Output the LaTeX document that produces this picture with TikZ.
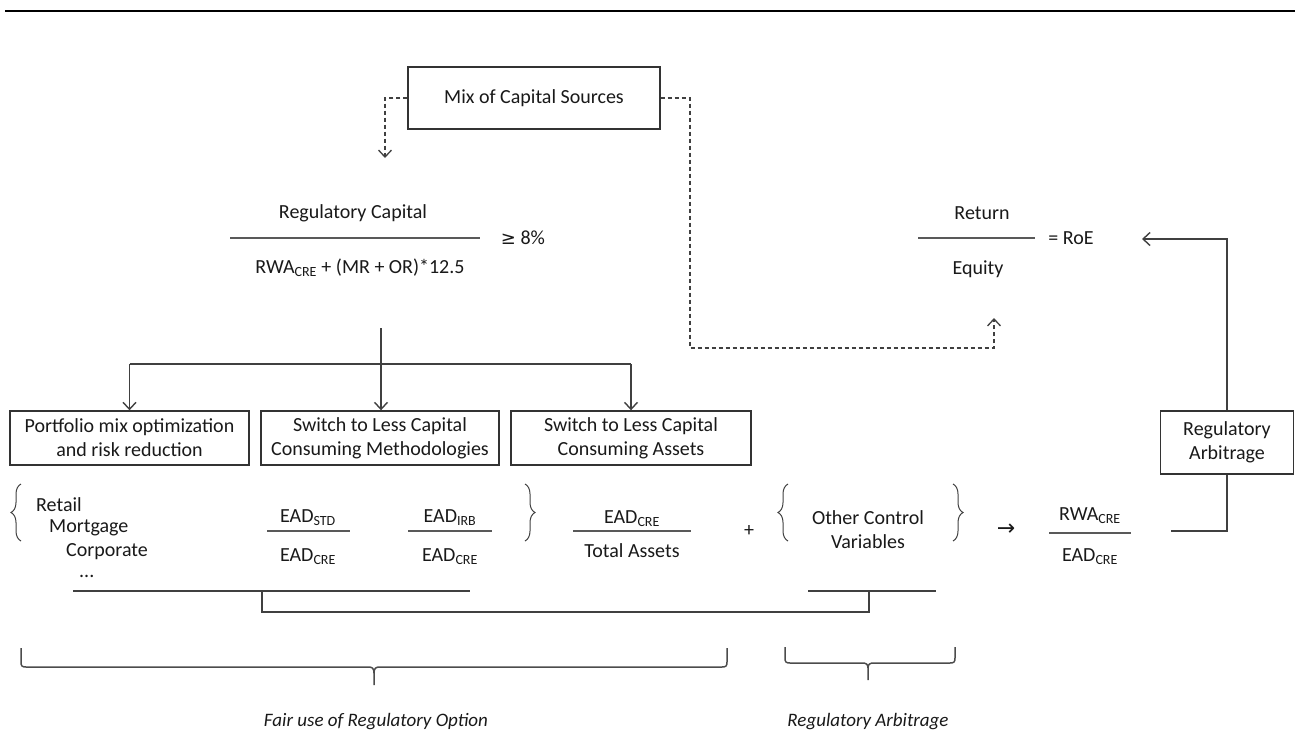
\documentclass[tikz,border=0pt]{standalone}
\usepackage{fontspec}
\setmainfont{Carlito}
\newfontfamily\symfont{DejaVu Sans}
\usetikzlibrary{arrows.meta,decorations.pathreplacing}
\newcommand{\mysub}[1]{\textsubscript{#1}}
\begin{document}
\begin{tikzpicture}[x=1pt,y=-1pt,
  every node/.style={font=\fontsize{20}{24}\selectfont, inner sep=0pt, text=black!90},
  box/.style={draw=black!80, line width=1.4pt, align=center, minimum height=54pt},
  ln/.style={draw=black!75, line width=1.4pt},
  fracline/.style={draw=black!65, line width=1.8pt},
  dsh/.style={draw=black!75, line width=1.3pt, dash pattern=on 4pt off 3pt},
  brc/.style={draw=black!75, line width=1pt, decorate, decoration={brace, amplitude=10pt}},
  bigbrace/.style={draw=black!70, line width=1.5pt},
  lbl/.style={font=\fontsize{19}{23}\selectfont\itshape},
  >={Straight Barb[length=7pt,width=13pt]},
]
\useasboundingbox (0,0) rectangle (1295,753);
% top rule
\coordinate (tl) at (5,11); \coordinate (tr) at (1295,11);
\draw[line width=2.5pt] (tl) -- (tr);

% Mix of capital sources
\node[box, minimum width=252pt, minimum height=62pt] (mix) at (534,98) {Mix of Capital Sources};

% Regulatory capital ratio
\node (rcnum) at (353,213) {Regulatory Capital};
\coordinate (rcl) at (230,238); \coordinate (rcr) at (480,238);
\draw[fracline] (rcl) -- (rcr);
\node (rcden) at (360,268) {RWA\mysub{CRE} + (MR + OR)*12.5};
\node (ge) at (523,238) {{\symfont\fontsize{18}{22}\selectfont ≥} 8\%};

% RoE
\node (ret) at (982,213) {Return};
\coordinate (rol) at (918,238); \coordinate (ror) at (1035,238);
\draw[fracline] (rol) -- (ror);
\node (eq) at (978,269) {Equity};
\node (roe) at (1071,238) {= RoE};

% dashed connectors
\coordinate (dl) at (385,158);
\draw[dsh,->] (mix.west) -| (dl);
\coordinate (dr1) at (690,98);
\coordinate (dr2) at (690,348);
\coordinate (dr) at (994,318);
\draw[dsh,->] (mix.east) -- (dr1) -- (dr2) -| (dr);

% boxes
\node[box, minimum width=239pt] (box1) at (129.5,438) {Portfolio mix optimization\\and risk reduction};
\node[box, minimum width=238pt] (box2) at (380,438) {Switch to Less Capital\\Consuming Methodologies};
\node[box, minimum width=240pt] (box3) at (631,438) {Switch to Less Capital\\Consuming Assets};

\coordinate (vtop) at (381,328);
\coordinate (hb) at (381,364);
\draw[ln,->] (vtop) -- (vtop |- box2.north);
\draw[ln] (box1.north |- hb) -- (box3.north |- hb);
\draw[ln,->] (box1.north |- hb) -- (box1.north);
\draw[ln,->] (box3.north |- hb) -- (box3.north);

% Regulatory arbitrage box
\node[box, minimum width=133pt, minimum height=63pt] (ra) at (1227,442.5) {Regulatory\\Arbitrage};
\coordinate (roeArr) at (1142,239);
\draw[ln,->] (ra.north) -- (ra.north |- roeArr) -- (roeArr);
\coordinate (rafoot) at (1171,531);
\draw[ln] (ra.south) |- (rafoot);

% bottom row
\draw[brc] (21,541) -- (21,484);
\node[anchor=west] (retail) at (36,505) {Retail};
\node[anchor=west] (mort) at (49,528) {Mortgage};
\node[anchor=west] (corp) at (66,552) {Corporate};
\node[anchor=west] (dots) at (79,576) {...};

\node (std) at (308,518) {EAD\mysub{STD}};
\coordinate (sl) at (267,531); \coordinate (sr) at (350,531);
\draw[fracline] (sl) -- (sr);
\node (stdd) at (308,557) {EAD\mysub{CRE}};

\node (irb) at (450,518) {EAD\mysub{IRB}};
\coordinate (il) at (408,531); \coordinate (ir) at (492,531);
\draw[fracline] (il) -- (ir);
\node (irbd) at (450,557) {EAD\mysub{CRE}};

\draw[brc] (525,484) -- (525,541);

\node (cre) at (632,519) {EAD\mysub{CRE}};
\coordinate (cl) at (573,531); \coordinate (cr) at (691,531);
\draw[fracline] (cl) -- (cr);
\node (tot) at (632,551) {Total Assets};

\node (plus) at (749,531) {+};

\draw[brc] (788,541) -- (788,484);
\node (oth) at (868,518) {Other Control};
\node (var) at (868,542) {Variables};
\draw[brc] (953,484) -- (953,541);

\node (arr) at (1006,530) {{\symfont\fontsize{22}{24}\selectfont →}};

\node (rwa) at (1090,516) {RWA\mysub{CRE}};
\coordinate (wl) at (1049,533); \coordinate (wr) at (1131,533);
\draw[fracline] (wl) -- (wr);
\node (ead) at (1090,557) {EAD\mysub{CRE}};

% connecting lines under bottom row
\coordinate (l1a) at (73,591); \coordinate (l1b) at (470,591);
\draw[ln] (l1a) -- (l1b);
\coordinate (l2a) at (808,591); \coordinate (l2b) at (936,591);
\draw[ln] (l2a) -- (l2b);
\coordinate (j1) at (262,591); \coordinate (j2) at (869,591);
\draw[ln] (j1) -- (262,612) -| (j2);

% big braces
\coordinate (b1tip) at (374,685);
\draw[bigbrace] (21,648) -- (21,662) .. controls (21,666) and (22,667) .. (26,667) -- (368,667) .. controls (372,667) and (374,668) .. (374,673) -- (b1tip);
\draw[bigbrace] (727,648) -- (727,662) .. controls (727,666) and (726,667) .. (722,667) -- (380,667) .. controls (376,667) and (374,668) .. (374,673);
\coordinate (b2tip) at (868,680);
\draw[bigbrace] (785,647) -- (785,658) .. controls (785,662) and (786,663) .. (790,663) -- (862,663) .. controls (866,663) and (868,664) .. (868,668) -- (b2tip);
\draw[bigbrace] (955,647) -- (955,658) .. controls (955,662) and (954,663) .. (950,663) -- (874,663) .. controls (870,663) and (868,664) .. (868,668);

\node[lbl] (fair) at (376,722) {Fair use of Regulatory Option};
\node[lbl] (rarb) at (868,722) {Regulatory Arbitrage};
\end{tikzpicture}
\end{document}
